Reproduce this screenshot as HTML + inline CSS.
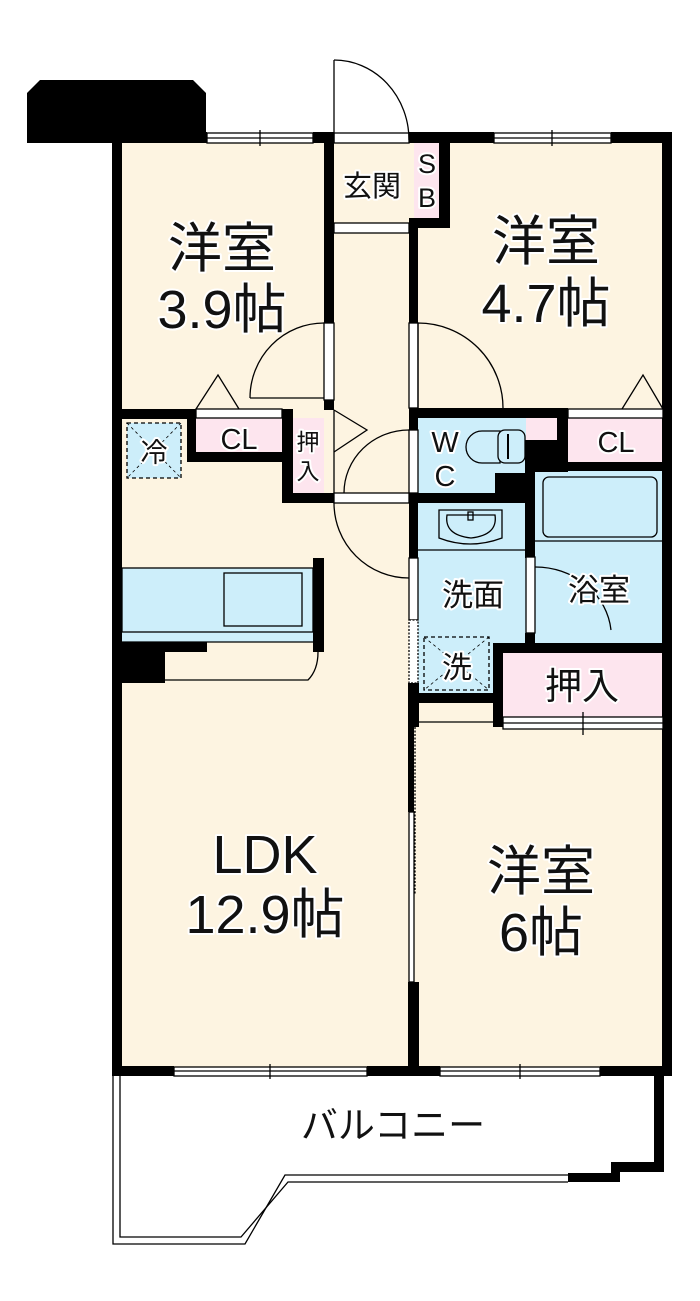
<!DOCTYPE html>
<html><head><meta charset="utf-8"><style>
html,body{margin:0;padding:0;background:#fff;}
svg{display:block;}
text{font-family:"Liberation Sans","Noto Sans CJK JP",sans-serif;fill:#111;text-anchor:middle;paint-order:stroke;stroke:#fff;stroke-width:4px;stroke-linejoin:round;}
</style></head><body>
<svg width="700" height="1301" viewBox="0 0 700 1301" xmlns="http://www.w3.org/2000/svg">
<rect x="117" y="138" width="550" height="933" fill="#fdf4e1"/>
<rect x="418" y="418" width="108" height="76" fill="#cdeefa"/>
<rect x="418" y="503" width="108" height="193" fill="#cdeefa"/>
<rect x="535" y="470" width="128" height="174" fill="#cdeefa"/>
<rect x="122" y="568" width="191" height="74" fill="#cdeefa"/>
<rect x="127" y="423" width="54" height="55" fill="#cdeefa"/>
<rect x="196" y="418" width="86" height="35" fill="#fde5ee"/>
<rect x="293" y="418" width="31" height="76" fill="#fde5ee"/>
<rect x="414" y="143" width="25" height="76" fill="#fde5ee"/>
<rect x="526" y="418" width="31" height="22" fill="#fde5ee"/>
<rect x="568" y="418" width="95" height="44" fill="#fde5ee"/>
<rect x="503" y="653" width="160" height="66" fill="#fde5ee"/>

<g fill="#000">
<polygon points="27,93 40,80 193,80 206,93 206,143 27,143"/>
<rect x="112" y="132" width="95" height="11"/>
<rect x="313" y="132" width="21" height="11"/>
<rect x="409" y="132" width="85" height="11"/>
<rect x="611" y="132" width="60" height="11"/>
<rect x="112" y="132" width="10" height="944"/>
<rect x="662" y="132" width="10" height="944"/>
<rect x="112" y="1066" width="62" height="10"/>
<rect x="367" y="1066" width="73" height="10"/>
<rect x="600" y="1066" width="72" height="10"/>
<rect x="654" y="1066" width="10" height="106"/>
<rect x="611" y="1162" width="53" height="10"/>
<rect x="611" y="1162" width="9" height="20"/>
<rect x="568" y="1173" width="52" height="9"/>
<rect x="324" y="143" width="10" height="180"/>
<rect x="324" y="400" width="10" height="10"/>
<rect x="439" y="143" width="11" height="85"/>
<rect x="409" y="218" width="41" height="10"/>
<rect x="409" y="218" width="9" height="105"/>
<rect x="112" y="409" width="84" height="10"/>
<rect x="187" y="409" width="9" height="53"/>
<rect x="187" y="452" width="106" height="10"/>
<rect x="282" y="409" width="11" height="94"/>
<rect x="282" y="493" width="52" height="10"/>
<rect x="409" y="408" width="159" height="10"/>
<rect x="409" y="408" width="9" height="22"/>
<rect x="409" y="493" width="117" height="10"/>
<rect x="495" y="473" width="31" height="22"/>
<rect x="525" y="440" width="10" height="118"/>
<rect x="525" y="440" width="43" height="32"/>
<rect x="557" y="408" width="11" height="64"/>
<rect x="535" y="462" width="137" height="9"/>
<rect x="525" y="633" width="10" height="12"/>
<rect x="409" y="493" width="9" height="65"/>
<rect x="493" y="643" width="179" height="10"/>
<rect x="493" y="643" width="10" height="84"/>
<rect x="409" y="693" width="94" height="10"/>
<rect x="408" y="683" width="11" height="44"/>
<rect x="408" y="727" width="6" height="85"/>
<rect x="408" y="982" width="11" height="90"/>
<rect x="313" y="558" width="11" height="94"/>
<rect x="112" y="642" width="53" height="41"/>
<rect x="165" y="642" width="42" height="10"/>
</g>

<g fill="none" stroke="#000" stroke-width="1.3">
<rect x="207" y="133" width="106" height="10" fill="#fff"/><line x1="207" y1="138" x2="313" y2="138"/><line x1="260" y1="130" x2="260" y2="146"/>
<rect x="494" y="133" width="117" height="10" fill="#fff"/><line x1="494" y1="138" x2="611" y2="138"/><line x1="552" y1="130" x2="552" y2="146"/>
<rect x="174" y="1067" width="193" height="9" fill="#fff"/><line x1="174" y1="1071" x2="367" y2="1071"/><line x1="270" y1="1064" x2="270" y2="1079"/>
<rect x="440" y="1067" width="160" height="9" fill="#fff"/><line x1="440" y1="1071" x2="600" y2="1071"/><line x1="520" y1="1064" x2="520" y2="1079"/>
<rect x="334" y="133" width="75" height="10" fill="#fff"/>
<line x1="334" y1="60" x2="334" y2="143"/>
<path d="M334,60 A75,80 0 0 1 409,140"/>
<rect x="334" y="223" width="75" height="10" fill="#fff"/>
<rect x="324" y="323" width="10" height="77" fill="#fff"/>
<path d="M250,398 L324,398 M250,398 A74,75 0 0 1 324,323"/>
<rect x="409" y="323" width="9" height="85" fill="#fff"/>
<path d="M418,323 L418,408 M418,323 A85,85 0 0 1 503,408"/>
<path d="M334,410 L367,430 L334,452"/>
<line x1="334" y1="410" x2="334" y2="493"/>
<rect x="409" y="430" width="9" height="63" fill="#fff"/>
<path d="M409,430 A65,63 0 0 0 344,493"/>
<rect x="334" y="493" width="75" height="10" fill="#fff"/>
<path d="M334,503 A75,75 0 0 0 409,578"/>
<rect x="409" y="558" width="9" height="62" fill="#fff"/>
<rect x="409" y="620" width="9" height="63" fill="#fff" stroke-dasharray="2,1.5"/>
<rect x="409" y="812" width="5" height="170" fill="#fff"/>
<line x1="415" y1="727" x2="415" y2="895" stroke-dasharray="2,1.5"/>
<line x1="418" y1="722" x2="493" y2="722"/>
<rect x="526" y="557" width="9" height="76" fill="#fff"/>
<path d="M535,567 A76,70 0 0 1 611,630"/>
<rect x="503" y="717" width="160" height="12" fill="#fff"/><line x1="503" y1="723" x2="663" y2="723"/><line x1="583" y1="712" x2="583" y2="735"/>
<rect x="196" y="409" width="86" height="9" fill="#fff"/>
<rect x="568" y="409" width="95" height="9" fill="#fff"/>
<path d="M196,409 L218,375 L239,409"/>
<path d="M622,409 L643,375 L663,409"/>
<rect x="127" y="423" width="54" height="55" stroke-dasharray="4,3"/>
<path d="M127,423 L181,478 M181,423 L127,478" stroke-dasharray="3,3" stroke-width="0.8"/>
<rect x="424" y="637" width="65" height="53" stroke-dasharray="4,3"/>
<path d="M424,637 L489,690 M489,637 L424,690" stroke-dasharray="3,3" stroke-width="0.8"/>
<path d="M500,431 L482,431 A16,16 0 0 0 482,463 L500,463 Z" fill="#cdeefa"/>
<rect x="498" y="430" width="27" height="33" rx="7" fill="#cdeefa"/>
<line x1="508" y1="434" x2="508" y2="459" stroke-width="2"/>
<path d="M439,510 L502,510 L502,538 Q470,550 439,538 Z"/>
<path d="M447,515 L495,515 Q498,535 471,538 Q444,535 447,515 Z"/>
<rect x="468" y="512" width="5" height="8"/>
<line x1="418" y1="550" x2="526" y2="550"/>
<rect x="543" y="477" width="114" height="60" rx="6"/>
<line x1="535" y1="541" x2="663" y2="541"/>
<rect x="122" y="568" width="191" height="64"/>
<rect x="224" y="573" width="78" height="53"/>
<line x1="122" y1="642" x2="313" y2="642"/>
<path d="M165,680 L308,680 Q318,670 318,652"/>
<path d="M113,1076 L113,1244 L245,1244 L285,1175 L568,1175"/>
<path d="M120,1076 L120,1237 L241,1237 L288,1182 L568,1182"/>
</g>

<text x="222" y="267" font-size="54">洋室</text>
<text x="222" y="328" font-size="54">3.9帖</text>
<text x="546" y="260" font-size="54">洋室</text>
<text x="546" y="322" font-size="54">4.7帖</text>
<text x="372" y="196" font-size="29">玄関</text>
<text x="427" y="173" font-size="27">S</text>
<text x="427" y="207" font-size="27">B</text>
<text x="239" y="449" font-size="29">CL</text>
<text x="616" y="452" font-size="29">CL</text>
<text x="308" y="450" font-size="23">押</text>
<text x="308" y="479" font-size="23">入</text>
<text x="154" y="462" font-size="27">冷</text>
<text x="445" y="452" font-size="29">W</text>
<text x="445" y="486" font-size="29">C</text>
<text x="473" y="606" font-size="31">洗面</text>
<text x="599" y="601" font-size="31">浴室</text>
<text x="457" y="678" font-size="30">洗</text>
<text x="582" y="699" font-size="37">押入</text>
<text x="265" y="873" font-size="54">LDK</text>
<text x="265" y="933" font-size="54">12.9帖</text>
<text x="541" y="890" font-size="54">洋室</text>
<text x="541" y="951" font-size="54">6帖</text>
<text x="393" y="1138" font-size="37">バルコニー</text>
</svg>
</body></html>
